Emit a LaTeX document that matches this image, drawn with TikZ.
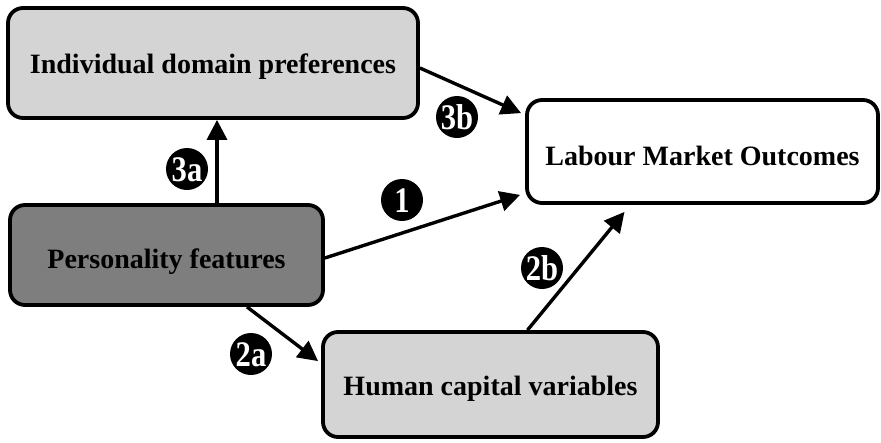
\documentclass[tikz,border=0pt]{standalone}
\usepackage{fontspec}
\setmainfont{Liberation Serif}
\newfontfamily\badgefont{Liberation Serif}[FakeStretch=0.85]
\usetikzlibrary{arrows.meta}

\definecolor{lightbox}{HTML}{D4D4D4}
\definecolor{darkbox}{HTML}{7E7E7E}

% label text set on a baseline a given distance below the box centre
\newcommand{\onbase}[2]{\raisebox{-#1}[0pt][0pt]{#2}}

\tikzset{
  panel/.style={draw=black, line width=3.8pt, rounded corners=15pt,
    inner sep=0pt, font=\bfseries\fontsize{28}{30}\selectfont},
  arr/.style={line width=3.4pt,
    -{Triangle[length=20pt,width=20pt]}},
  badge/.style={circle, fill=black, text=white, minimum size=42pt,
    inner sep=0pt, text height=24pt, text depth=0pt,
    font=\badgefont\bfseries\fontsize{36}{36}\selectfont}
}

\begin{document}
\begin{tikzpicture}[x=1pt,y=-1pt]
  \useasboundingbox (0,0) rectangle (881,442);

  % boxes
  \node[panel, fill=lightbox, minimum width=410pt, minimum height=110pt]
    (idp) at (213,63) {\onbase{10pt}{Individual domain preferences}};
  \node[panel, fill=darkbox, minimum width=313pt, minimum height=100pt]
    (pf) at (166.5,255) {\onbase{13pt}{Personality features}\hspace{22pt}};
  \node[panel, fill=lightbox, minimum width=335pt, minimum height=105pt]
    (hcv) at (490.5,384.5) {\onbase{10.5pt}{Human capital variables}};
  \node[panel, fill=white, minimum width=351pt, minimum height=103pt]
    (lmo) at (702.5,151.5) {\onbase{13.5pt}{Labour Market Outcomes}};

  % causal paths
  \draw[arr] ([xshift=50.5pt]pf.north) -- ([xshift=4pt]idp.south);
  \draw[arr] ([yshift=-5pt]idp.east) -- ([shift={(-4pt,-15pt)}]lmo.north west);
  \draw[arr] ([yshift=-3pt]pf.east) -- ([shift={(-5pt,10pt)}]lmo.south west);
  \draw[arr] ([xshift=80.5pt]pf.south) -- ([shift={(-3pt,-31pt)}]hcv.north west);
  \draw[arr] ([xshift=37pt]hcv.north) -- ([shift={(-78pt,-7pt)}]lmo.south);

  % path labels
  \node[badge] (b3a) at (187,169) {3a};
  \node[badge] (b1)  at (402,200) {1};
  \node[badge] (b3b) at (457,117) {3b};
  \node[badge] (b2a) at (251,354) {2a};
  \node[badge] (b2b) at (542,268) {2b};
\end{tikzpicture}
\end{document}
